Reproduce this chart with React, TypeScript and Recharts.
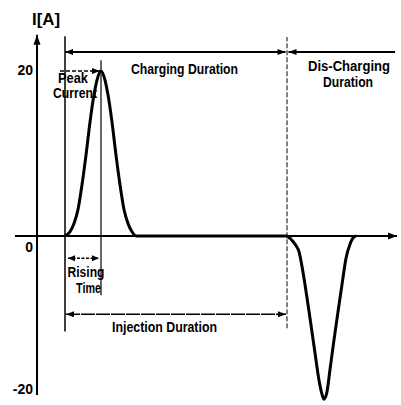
import React from "react";
import { ComposedChart, Line, XAxis, YAxis, ReferenceLine, ReferenceDot } from "recharts";

// injector drive current, time in arbitrary units, current in A
const TIME = [
  28, 33, 37, 41, 45, 49, 53, 57, 60, 64, 68, 71, 75, 79, 83, 87, 91, 95, 99,
  249, 254, 258, 262, 266, 270, 274, 278, 282, 285, 287, 290, 293, 297, 301, 305, 309, 313, 317, 319,
];
const CURRENT = [
  0, 0.5, 1.5, 3.2, 6.2, 9.8, 13.8, 17.1, 18.9, 20, 18.9, 17.1, 13.8, 9.8, 6.2, 3.2, 1.5, 0.5, 0,
  0, -0.4, -1.0, -1.9, -4.4, -7.5, -10.8, -14.2, -17.5, -19.2, -19.8, -18.9, -16.2, -12.6, -9.2, -5.9, -2.7, -1.0, -0.1, 0,
];
const Y_TICKS = [20, 0, -20];

const CHARGE_START = 28;
const PEAK_TIME = 64;
const DISCHARGE_START = 250;

const rows = TIME.map((t, i) => ({ t, current: CURRENT[i] }));

const FONT = "'Liberation Sans', Arial, sans-serif";

type ArrowOpts = { start?: boolean; end?: boolean; width?: number; dash?: string; len?: number; half?: number };

function head(x: number, y: number, dx: number, dy: number, len: number, half: number) {
  const bx = x - dx * len;
  const by = y - dy * len;
  const px = -dy * half;
  const py = dx * half;
  return `${x},${y} ${bx + px},${by + py} ${bx - px},${by - py}`;
}

const arrow = (o: ArrowOpts) => (p: any) => {
  const { x1, y1, x2, y2 } = p;
  const d = Math.hypot(x2 - x1, y2 - y1) || 1;
  const ux = (x2 - x1) / d;
  const uy = (y2 - y1) / d;
  const len = o.len ?? 8;
  const half = o.half ?? 3;
  return (
    <g>
      <line x1={x1} y1={y1} x2={x2} y2={y2} stroke="#000" strokeWidth={o.width ?? 1.5} strokeDasharray={o.dash} />
      {o.start && <polygon points={head(x1, y1, -ux, -uy, len, half)} fill="#000" />}
      {o.end && <polygon points={head(x2, y2, ux, uy, len, half)} fill="#000" />}
    </g>
  );
};

const label = (text: string, w: number, size = 14) => (p: any) => (
  <text
    x={p.cx}
    y={p.cy}
    textAnchor="middle"
    fontFamily={FONT}
    fontWeight="bold"
    fontSize={size}
    textLength={w}
    lengthAdjust="spacingAndGlyphs"
    fill="#000"
  >
    {text}
  </text>
);

// value labels sit beside the axis, kept inside its span
const tickLabel = (v: number) => (p: any) => (
  <text
    x={p.cx - 4}
    y={p.cy + (v > 0 ? 4 : v === 0 ? 16 : -7)}
    textAnchor="end"
    fontFamily={FONT}
    fontWeight="bold"
    fontSize={14}
    fill="#000"
  >
    {v}
  </text>
);

const TEXTS: { text: string; t: number; v: number; w: number; size?: number }[] = [
  { text: "I[A]", t: 9, v: 25.6, w: 28, size: 16 },
  { text: "Charging Duration", t: 147.5, v: 19.6, w: 107 },
  { text: "Dis-Charging", t: 312, v: 20.0, w: 82 },
  { text: "Duration", t: 311, v: 18.1, w: 50 },
  { text: "Peak", t: 36, v: 18.5, w: 30 },
  { text: "Current", t: 38, v: 16.7, w: 44 },
  { text: "Rising", t: 49, v: -5.0, w: 37 },
  { text: "Time", t: 51.5, v: -6.9, w: 25 },
  { text: "Injection Duration", t: 127.5, v: -11.6, w: 105 },
];

export default function App() {
  return (
    <div style={{ position: "absolute", left: 0, top: 0, background: "#fff" }}>
      <ComposedChart width={401} height={405} data={rows} margin={{ top: 0, right: 0, bottom: 0, left: 0 }}>
        <XAxis dataKey="t" type="number" domain={[-37, 364]} hide allowDataOverflow />
        <YAxis type="number" domain={[-20.5, 28.6]} hide allowDataOverflow />

        {/* axes */}
        <ReferenceLine ifOverflow="visible" segment={[{ x: -22, y: 0 }, { x: 360, y: 0 }]} shape={arrow({ end: true, width: 2, len: 9, half: 3.5 })} />
        <ReferenceLine ifOverflow="visible" segment={[{ x: 0, y: -19.3 }, { x: 0, y: 24.4 }]} shape={arrow({ end: true, width: 2, len: 10, half: 3.5 })} />

        {/* event markers */}
        <ReferenceLine ifOverflow="visible" segment={[{ x: CHARGE_START, y: -11.6 }, { x: CHARGE_START, y: 24.2 }]} shape={arrow({ width: 1.5 })} />
        <ReferenceLine ifOverflow="visible" segment={[{ x: PEAK_TIME, y: -7.2 }, { x: PEAK_TIME, y: 21.3 }]} shape={arrow({ width: 1.2 })} />
        <ReferenceLine ifOverflow="visible" segment={[{ x: DISCHARGE_START, y: -11.2 }, { x: DISCHARGE_START, y: 24.1 }]} shape={arrow({ width: 1, dash: "5 2" })} />

        {/* durations */}
        <ReferenceLine ifOverflow="visible" segment={[{ x: CHARGE_START, y: 22.3 }, { x: DISCHARGE_START - 1.5, y: 22.3 }]} shape={arrow({ start: true, end: true, width: 2 })} />
        <ReferenceLine ifOverflow="visible" segment={[{ x: DISCHARGE_START + 1.5, y: 22.3 }, { x: 358, y: 22.3 }]} shape={arrow({ start: true, width: 2 })} />
        <ReferenceLine ifOverflow="visible" segment={[{ x: 23, y: 20 }, { x: PEAK_TIME - 1, y: 20 }]} shape={arrow({ end: true, width: 1.5, dash: "4 2" })} />
        <ReferenceLine ifOverflow="visible" segment={[{ x: CHARGE_START + 3, y: -2.7 }, { x: PEAK_TIME - 2, y: -2.7 }]} shape={arrow({ start: true, end: true, width: 1.5, dash: "3 1.5", len: 7 })} />
        <ReferenceLine ifOverflow="visible" segment={[{ x: CHARGE_START + 1, y: -9.5 }, { x: DISCHARGE_START - 1, y: -9.5 }]} shape={arrow({ start: true, end: true, width: 1.5, dash: "14 1" })} />

        <Line dataKey="current" type="monotone" stroke="#000" strokeWidth={3} dot={false} activeDot={false} isAnimationActive={false} />

        {Y_TICKS.map((v) => (
          <ReferenceDot key={v} x={0} y={v} r={0} ifOverflow="visible" shape={tickLabel(v)} />
        ))}
        {TEXTS.map((l) => (
          <ReferenceDot key={l.text} x={l.t} y={l.v} r={0} ifOverflow="visible" shape={label(l.text, l.w, l.size)} />
        ))}
      </ComposedChart>
    </div>
  );
}
